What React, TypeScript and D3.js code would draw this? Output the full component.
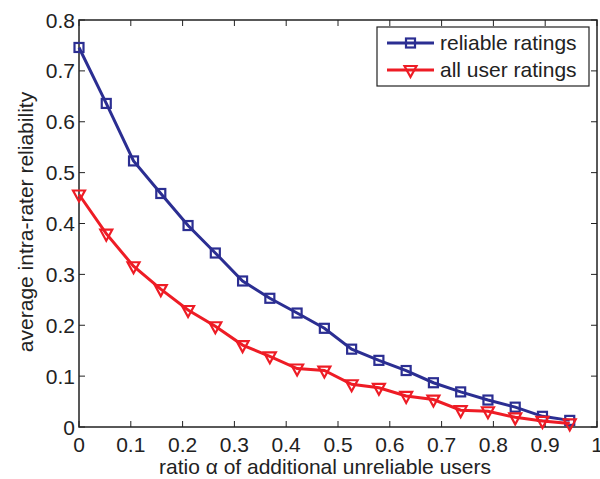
import React, { useEffect, useRef } from "react";
import * as d3 from "d3";

const alphas = d3.range(19).map((i) => i / 19);
const reliableRatings = [
  0.746, 0.636, 0.523, 0.459, 0.396, 0.342, 0.287, 0.253, 0.224, 0.194,
  0.153, 0.131, 0.111, 0.087, 0.069, 0.053, 0.039, 0.021, 0.013,
];
const allUserRatings = [
  0.457, 0.38, 0.316, 0.271, 0.23, 0.198, 0.161, 0.139, 0.115, 0.111, 0.084,
  0.077, 0.061, 0.054, 0.033, 0.031, 0.019, 0.012, 0.007,
];
const xTicks = [0, 0.1, 0.2, 0.3, 0.4, 0.5, 0.6, 0.7, 0.8, 0.9, 1];
const yTicks = [0, 0.1, 0.2, 0.3, 0.4, 0.5, 0.6, 0.7, 0.8];
const seriesNames = ["reliable ratings", "all user ratings"];

const BLUE = "#2b2e92";
const RED = "#ee1c25";
const FONT = "Liberation Sans, Arial, sans-serif";
const FS = 21;

export default function App() {
  const ref = useRef<SVGSVGElement>(null);

  useEffect(() => {
    const svg = d3.select(ref.current);
    svg.selectAll("*").remove();
    const left = 79, right = 597, top = 20, bottom = 427;
    const x = d3.scaleLinear().domain([0, 1]).range([left, right]);
    const y = d3.scaleLinear().domain([0, 0.8]).range([bottom, top]);

    const g = svg.append("g");

    // box
    g.append("rect")
      .attr("x", left).attr("y", top)
      .attr("width", right - left).attr("height", bottom - top)
      .attr("fill", "white").attr("stroke", "#222").attr("stroke-width", 1.5);

    // ticks (inward, all sides)
    const tl = 6;
    xTicks.forEach((t) => {
      g.append("line").attr("x1", x(t)).attr("x2", x(t)).attr("y1", bottom).attr("y2", bottom - tl).attr("stroke", "#222");
      g.append("line").attr("x1", x(t)).attr("x2", x(t)).attr("y1", top).attr("y2", top + tl).attr("stroke", "#222");
      g.append("text").attr("x", x(t)).attr("y", 452)
        .attr("text-anchor", "middle").attr("font-family", FONT).attr("font-size", FS).attr("fill", "#222")
        .text(String(t));
    });
    yTicks.forEach((t) => {
      g.append("line").attr("x1", left).attr("x2", left + tl).attr("y1", y(t)).attr("y2", y(t)).attr("stroke", "#222");
      g.append("line").attr("x1", right).attr("x2", right - tl).attr("y1", y(t)).attr("y2", y(t)).attr("stroke", "#222");
      g.append("text").attr("x", 75).attr("y", y(t) + 7.5)
        .attr("text-anchor", "end").attr("font-family", FONT).attr("font-size", FS).attr("fill", "#222")
        .text(String(t));
    });

    // axis titles
    g.append("text").attr("x", 325).attr("y", 474)
      .attr("text-anchor", "middle").attr("font-family", FONT).attr("font-size", FS).attr("fill", "#222")
      .text("ratio \u03b1 of additional unreliable users");
    g.append("text").attr("transform", `translate(33,222) rotate(-90)`)
      .attr("text-anchor", "middle").attr("font-family", FONT).attr("font-size", FS).attr("fill", "#222")
      .text("average intra-rater reliability");

    const line = d3.line<number>().x((_, i) => x(alphas[i])).y((d) => y(d));

    const square = (sel: d3.Selection<SVGGElement, unknown, null, undefined>, cx: number, cy: number, color: string) =>
      sel.append("rect").attr("x", cx - 4.5).attr("y", cy - 4.5).attr("width", 9).attr("height", 9)
        .attr("fill", "none").attr("stroke", color).attr("stroke-width", 2.2);
    const tri = (sel: d3.Selection<SVGGElement, unknown, null, undefined>, cx: number, cy: number, color: string) =>
      sel.append("path")
        .attr("d", `M${cx - 6},${cy - 4} L${cx + 6},${cy - 4} L${cx},${cy + 7} Z`)
        .attr("fill", "none").attr("stroke", color).attr("stroke-width", 2.2).attr("stroke-linejoin", "miter");

    const series = [
      { values: reliableRatings, color: BLUE, marker: square },
      { values: allUserRatings, color: RED, marker: tri },
    ];

    series.forEach((s) => {
      g.append("path").datum(s.values).attr("d", line).attr("fill", "none")
        .attr("stroke", s.color).attr("stroke-width", 3);
      const mg = g.append("g");
      s.values.forEach((v, i) => s.marker(mg, x(alphas[i]), y(v), s.color));
    });

    // legend
    const lg = g.append("g");
    lg.append("rect").attr("x", 377).attr("y", 27).attr("width", 212).attr("height", 59)
      .attr("fill", "white").attr("stroke", "#222").attr("stroke-width", 1.2);
    series.forEach((s, i) => {
      const ly = 43 + i * 27;
      lg.append("line").attr("x1", 387).attr("x2", 434).attr("y1", ly).attr("y2", ly)
        .attr("stroke", s.color).attr("stroke-width", 3);
      const mg = lg.append("g");
      s.marker(mg, 410.5, ly, s.color);
      lg.append("text").attr("x", 440).attr("y", ly + 6.5)
        .attr("font-family", FONT).attr("font-size", FS).attr("fill", "#222")
        .text(seriesNames[i]);
    });
  }, []);

  return (
    <svg ref={ref} width={600} height={479} style={{ position: "absolute", left: 0, top: 0 }} />
  );
}
